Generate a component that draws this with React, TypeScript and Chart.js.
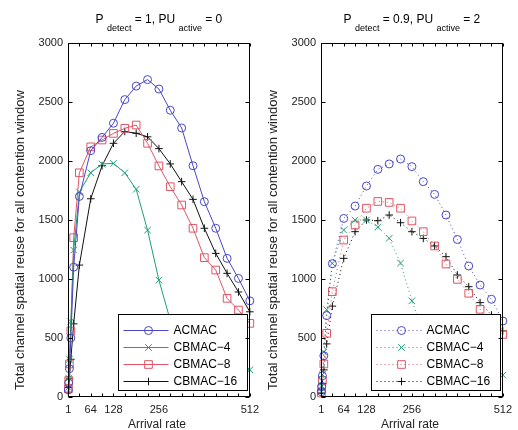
import React, { useEffect, useRef } from "react";
import { Chart, registerables } from "chart.js";

Chart.register(...registerables);

// ---------- data ----------
const arrivalRates = [1, 2, 4, 8, 16, 32, 64, 96, 128, 160, 192, 224, 256, 288, 320, 352, 384, 416, 448, 480, 512];
const xTickValues = [1, 64, 128, 256, 512];
const seriesNames = ["ACMAC", "CBMAC\u22124", "CBMAC\u22128", "CBMAC\u221216"];

// left panel: P_detect = 1, PU_active = 0
const acmacLeft = [60, 120, 240, 500, 1100, 1700, 2087, 2200, 2320, 2520, 2635, 2690, 2610, 2430, 2280, 1960, 1655, 1430, 1175, 1005, 815];
const cbmac4Left = [80, 160, 320, 640, 1245, 1737, 1900, 1975, 1980, 1900, 1760, 1414, 990, 650, 430, 330, 280, 260, 245, 235, 230];
const cbmac8Left = [70, 140, 280, 560, 1350, 1900, 2120, 2178, 2234, 2277, 2305, 2150, 1958, 1782, 1627, 1430, 1181, 1076, 836, 737, 624];
const cbmac16Left = [40, 80, 160, 320, 620, 1118, 1680, 1960, 2150, 2250, 2235, 2205, 2105, 1975, 1825, 1675, 1430, 1217, 1048, 890, 722];

// right panel: P_detect = 0.9, PU_active = 2
const acmacRight = [45, 90, 180, 350, 690, 1130, 1513, 1618, 1788, 1929, 1975, 2017, 1952, 1825, 1717, 1542, 1335, 1110, 949, 828, 644];
const cbmac4Right = [48, 95, 190, 380, 740, 1133, 1415, 1500, 1500, 1440, 1345, 1135, 815, 550, 400, 320, 270, 240, 220, 200, 186];
const cbmac8Right = [35, 70, 140, 280, 540, 893, 1330, 1458, 1600, 1657, 1649, 1600, 1492, 1401, 1280, 1127, 997, 879, 743, 600, 530];
const cbmac16Right = [30, 60, 115, 230, 450, 770, 1175, 1401, 1500, 1494, 1542, 1477, 1401, 1344, 1280, 1189, 1034, 935, 800, 695, 560];

const leftTitle = [
  { t: "P ", sub: false },
  { t: "detect", sub: true },
  { t: " = 1, PU ", sub: false },
  { t: "active", sub: true },
  { t: " = 0", sub: false },
];
const rightTitle = [
  { t: "P ", sub: false },
  { t: "detect", sub: true },
  { t: " = 0.9, PU ", sub: false },
  { t: "active", sub: true },
  { t: " = 2", sub: false },
];
const xTitle = "Arrival rate";
const yTitle = "Total channel spatial reuse for all contention window";

// ---------- styles ----------
const FONT = '"Liberation Sans", Arial, Helvetica, sans-serif';
const colors = ["#4848c8", "#1f9e78", "#e05565", "#111111"];
const pointStyles = ["circle", "crossRot", "rect", "cross"];
const pointRadii = [4, 4.6, 5.4, 3.8];

function drawMarker(ctx: CanvasRenderingContext2D, style: string, x: number, y: number, r: number) {
  ctx.beginPath();
  if (style === "circle") {
    ctx.arc(x, y, r, 0, Math.PI * 2);
  } else if (style === "rect") {
    const s = r * Math.SQRT1_2;
    ctx.rect(x - s, y - s, 2 * s, 2 * s);
  } else if (style === "cross") {
    ctx.moveTo(x - r, y);
    ctx.lineTo(x + r, y);
    ctx.moveTo(x, y - r);
    ctx.lineTo(x, y + r);
  } else {
    const s = r * Math.SQRT1_2;
    ctx.moveTo(x - s, y - s);
    ctx.lineTo(x + s, y + s);
    ctx.moveTo(x - s, y + s);
    ctx.lineTo(x + s, y - s);
  }
  ctx.stroke();
}

const framePlugin = {
  id: "frame",
  afterDatasetsDraw(chart: any, _args: any, opts: any) {
    const { ctx, chartArea: a, scales } = chart;
    const xs = scales.x;
    const ys = scales.y;
    ctx.save();

    // legend
    const bx = Math.round(a.left + 50) + 0.5;
    const by = Math.round(a.top + 271) + 0.5;
    const bw = Math.round(a.right - 2 - bx);
    const bh = 76;
    ctx.fillStyle = "#fff";
    ctx.fillRect(bx, by, bw, bh);
    ctx.strokeStyle = "#000";
    ctx.lineWidth = 1;
    ctx.setLineDash([]);
    ctx.strokeRect(bx, by, bw, bh);
    chart.data.datasets.forEach((ds: any, i: number) => {
      const ry = Math.round(by + 15 + i * 17) + 0.5;
      ctx.strokeStyle = ds.borderColor;
      ctx.lineWidth = 1;
      ctx.setLineDash(ds.borderDash || []);
      ctx.beginPath();
      ctx.moveTo(bx + 5, ry);
      ctx.lineTo(bx + 50, ry);
      ctx.stroke();
      ctx.setLineDash([]);
      drawMarker(ctx, ds.pointStyle, bx + 30, ry, ds.pointRadius);
      ctx.fillStyle = "#000";
      ctx.font = `12px ${FONT}`;
      ctx.textAlign = "left";
      ctx.textBaseline = "middle";
      ctx.fillText(ds.label, bx + 55, ry + 0.5);
    });

    // axes box
    ctx.strokeStyle = "#000";
    ctx.lineWidth = 1;
    const L = Math.round(a.left) + 0.5;
    const R = Math.round(a.right) - 0.5;
    const T = Math.round(a.top) + 0.5;
    const B = Math.round(a.bottom) - 0.5;
    ctx.strokeRect(L, T, R - L, B - T);
    ctx.beginPath();
    for (let v = 0; v <= 512; v += 32) {
      const px = Math.round(xs.getPixelForValue(v)) + 0.5;
      ctx.moveTo(px, T);
      ctx.lineTo(px, T + 3);
      ctx.moveTo(px, B);
      ctx.lineTo(px, B - 3);
    }
    for (let v = 0; v <= 3000; v += 500) {
      const py = Math.round(ys.getPixelForValue(v)) + 0.5;
      ctx.moveTo(L, py);
      ctx.lineTo(L + 4, py);
      ctx.moveTo(R, py);
      ctx.lineTo(R - 4, py);
    }
    ctx.stroke();

    // title with subscripts
    const parts = opts.title || [];
    const mainFont = `12px ${FONT}`;
    const subFont = `9px ${FONT}`;
    let total = 0;
    parts.forEach((p: any) => {
      ctx.font = p.sub ? subFont : mainFont;
      total += ctx.measureText(p.t).width;
    });
    let tx = (a.left + a.right) / 2 - total / 2;
    ctx.fillStyle = "#000";
    ctx.textAlign = "left";
    ctx.textBaseline = "alphabetic";
    parts.forEach((p: any) => {
      ctx.font = p.sub ? subFont : mainFont;
      ctx.fillText(p.t, tx, p.sub ? 31 : 23);
      tx += ctx.measureText(p.t).width;
    });

    // axis titles
    ctx.font = `12px ${FONT}`;
    ctx.textAlign = "center";
    ctx.textBaseline = "middle";
    ctx.fillStyle = "#222";
    ctx.fillText(xTitle, (a.left + a.right) / 2 - 2, 425);
    ctx.save();
    ctx.font = `13px ${FONT}`;
    ctx.translate(20, 240);
    ctx.rotate(-Math.PI / 2);
    ctx.fillText(yTitle, 0, 0);
    ctx.restore();

    ctx.restore();
  },
};

function makeConfig(values: number[][], title: any[], dotted: boolean): any {
  return {
    type: "line",
    data: {
      datasets: values.map((vals, i) => ({
        label: seriesNames[i],
        data: arrivalRates.map((r, j) => ({ x: r, y: vals[j] })),
        borderColor: colors[i],
        backgroundColor: "rgba(0,0,0,0)",
        pointBorderColor: colors[i],
        pointBackgroundColor: "rgba(0,0,0,0)",
        pointStyle: pointStyles[i],
        pointRadius: pointRadii[i],
        pointBorderWidth: 1,
        borderWidth: 1,
        borderDash: dotted ? [1, 3] : [],
        tension: 0,
        clip: false,
      })),
    },
    options: {
      animation: false,
      responsive: false,
      events: [],
      layout: { padding: { left: 0, right: 10, top: 43, bottom: 0 } },
      scales: {
        x: {
          type: "linear",
          min: 0,
          max: 512,
          afterBuildTicks: (s: any) => {
            s.ticks = xTickValues.map((v) => ({ value: v }));
          },
          afterFit: (s: any) => {
            s.height = 33;
          },
          grid: { display: false, drawTicks: false },
          border: { display: false },
          ticks: {
            autoSkip: false,
            maxRotation: 0,
            padding: 6,
            color: "#222",
            font: { family: FONT, size: 11 },
            callback: (v: any) => String(v),
          },
        },
        y: {
          min: 0,
          max: 3000,
          afterFit: (s: any) => {
            s.width = 68;
          },
          grid: { display: false, drawTicks: false },
          border: { display: false },
          ticks: {
            stepSize: 500,
            padding: 5,
            color: "#222",
            font: { family: FONT, size: 11 },
            callback: (v: any) => String(v),
          },
        },
      },
      plugins: {
        legend: { display: false },
        tooltip: { enabled: false },
        title: { display: false },
        frame: { title },
      },
    },
    plugins: [framePlugin],
  };
}

function Panel({ values, title, dotted, left }: { values: number[][]; title: any[]; dotted: boolean; left: number }) {
  const ref = useRef<HTMLCanvasElement | null>(null);
  useEffect(() => {
    if (!ref.current) return;
    const chart = new Chart(ref.current, makeConfig(values, title, dotted));
    return () => chart.destroy();
  }, []);
  return (
    <canvas
      ref={ref}
      width={265}
      height={430}
      style={{ position: "absolute", left, top: 0, width: 265, height: 430, display: "block" }}
    />
  );
}

export default function App() {
  return (
    <div style={{ position: "absolute", left: 0, top: 0, width: 518, height: 430, background: "#fff", overflow: "hidden" }}>
      <Panel values={[acmacLeft, cbmac4Left, cbmac8Left, cbmac16Left]} title={leftTitle} dotted={false} left={0} />
      <Panel values={[acmacRight, cbmac4Right, cbmac8Right, cbmac16Right]} title={rightTitle} dotted={true} left={253} />
    </div>
  );
}
